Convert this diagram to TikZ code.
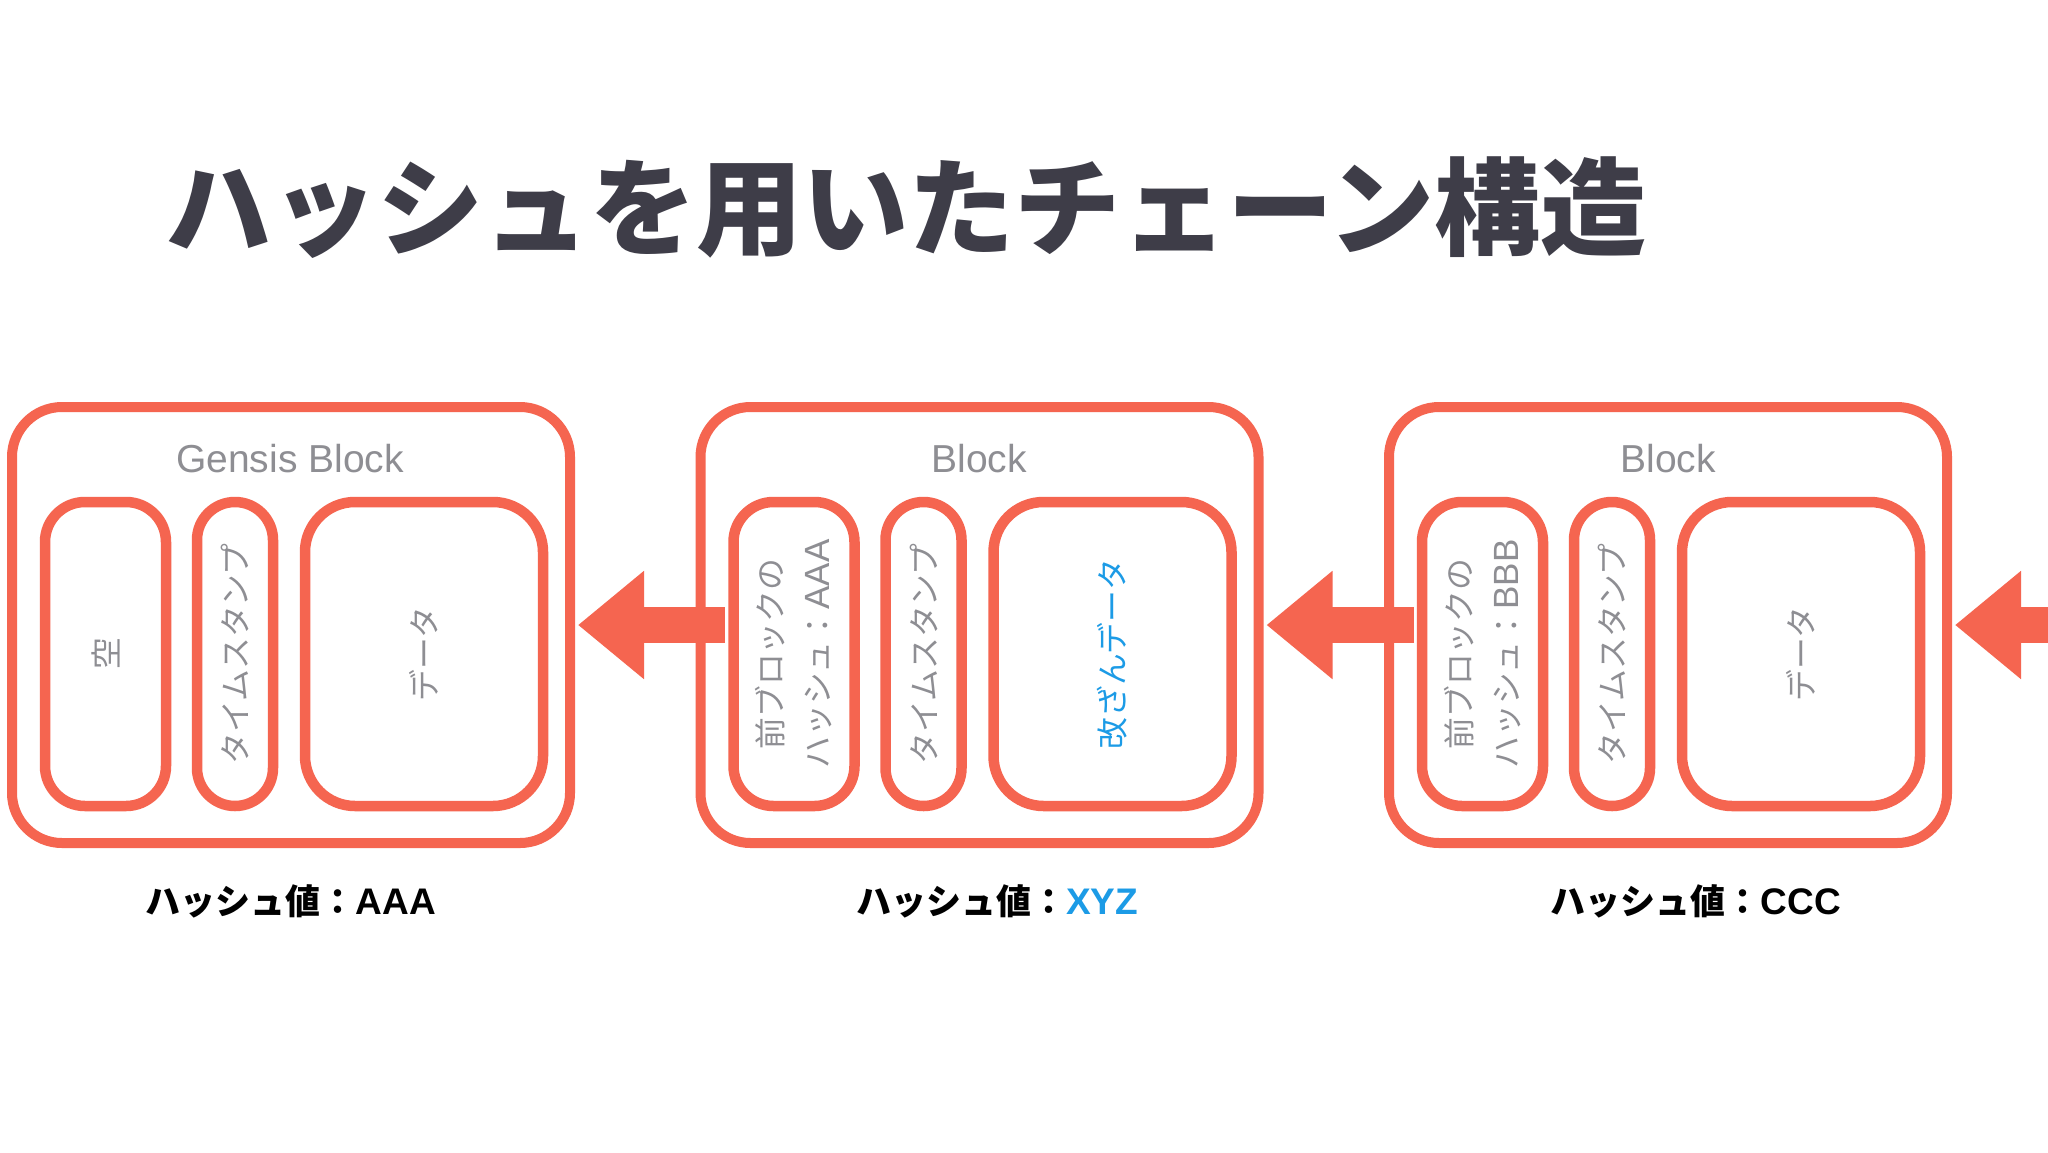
\documentclass[tikz,border=0pt]{standalone}
\usepackage{fontspec}
\setmainfont{Noto Sans CJK JP}
\newfontfamily\lat{Liberation Sans}
\usetikzlibrary{arrows.meta}
\definecolor{coral}{RGB}{245,101,80}
\definecolor{txtgray}{RGB}{142,142,147}
\definecolor{tblue}{RGB}{28,155,230}
\definecolor{ttl}{RGB}{62,61,72}
\begin{document}
\begin{tikzpicture}[x=0.5pt,y=-0.5pt,
  blockbox/.style={draw=coral, line width=5pt, rounded corners=25pt, minimum width=279pt, minimum height=218pt, inner sep=0pt},
  fieldbox/.style={draw=coral, line width=5.25pt, inner sep=0pt, minimum height=152pt},
  fielda/.style={fieldbox, minimum width=60.5pt, rounded corners=20pt},
  fieldb/.style={fieldbox, minimum width=38pt, rounded corners=19pt},
  fieldc/.style={fieldbox, minimum width=119pt, rounded corners=25pt},
  fieldtxt/.style={rotate=90, text=txtgray, font=\fontsize{15.9}{23.5}\selectfont, align=center, inner sep=0pt},
  blocktitle/.style={text=txtgray, font=\lat\fontsize{19.5}{22}\selectfont},
  hashlbl/.style={text=black, font=\bfseries\fontsize{17.5}{22}\selectfont},
  chain/.style={coral, line width=18pt, -{Triangle[length=33pt,width=52pt]}}
]
\useasboundingbox[fill=white] (0,0) rectangle (2048,1152);

\node[text=ttl, font=\bfseries\fontsize{53.1}{60}\selectfont] (title) at (906,208) {ハッシュを用いたチェーン構造};

% outer blocks
\node[blockbox] (b0) at (291,625) {};
\node[blockbox] (b1) at (979.5,625) {};
\node[blockbox] (b2) at (1668,625) {};
\coordinate (edge) at (2048,625);

% chain arrows
\draw[chain] ([xshift=-2pt]b1.west -| 729,0) -- ([xshift=1.5pt]b0.east);
\draw[chain] ([xshift=-2pt]b2.west -| 1417.5,0) -- ([xshift=1.5pt]b1.east);
\draw[chain] (edge) -- ([xshift=1.5pt]b2.east);

% block titles
\node[blocktitle] (h0) at (290,459) {Gensis Block};
\node[blocktitle] (h1) at (979,459) {Block};
\node[blocktitle] (h2) at (1668,459) {Block};

% fields block 0
\node[fielda] (b0a) at (105.5,654) {};
\node[fieldb] (b0b) at (235,654) {};
\node[fieldc] (b0c) at (424,654) {};
\node[fieldtxt] (t0a) at (b0a) {空};
\node[fieldtxt] (t0b) at (b0b) {タイムスタンプ};
\node[fieldtxt] (t0c) at (b0c) {データ};

% fields block 1
\node[fielda] (b1a) at (794,654) {};
\node[fieldb] (b1b) at (923.5,654) {};
\node[fieldc] (b1c) at (1112.5,654) {};
\node[fieldtxt] (t1a) at (b1a) {前ブロックの\\ハッシュ：{\lat\fontsize{17.5}{23.5}\selectfont AAA}};
\node[fieldtxt] (t1b) at (b1b) {タイムスタンプ};
\node[fieldtxt, text=tblue] (t1c) at (b1c) {改ざんデータ};

% fields block 2
\node[fielda] (b2a) at (1482.5,654) {};
\node[fieldb] (b2b) at (1612,654) {};
\node[fieldc] (b2c) at (1801,654) {};
\node[fieldtxt] (t2a) at (b2a) {前ブロックの\\ハッシュ：{\lat\fontsize{17.5}{23.5}\selectfont BBB}};
\node[fieldtxt] (t2b) at (b2b) {タイムスタンプ};
\node[fieldtxt] (t2c) at (b2c) {データ};

% hash labels
\node[hashlbl] (l0) at (291,901) {ハッシュ値：{\lat\bfseries\fontsize{18.5}{22}\selectfont AAA}};
\node[hashlbl] (l1) at (997,901) {ハッシュ値：{\lat\bfseries\fontsize{18.5}{22}\selectfont\color{tblue}XYZ}};
\node[hashlbl] (l2) at (1696,901) {ハッシュ値：{\lat\bfseries\fontsize{18.5}{22}\selectfont CCC}};
\end{tikzpicture}
\end{document}
